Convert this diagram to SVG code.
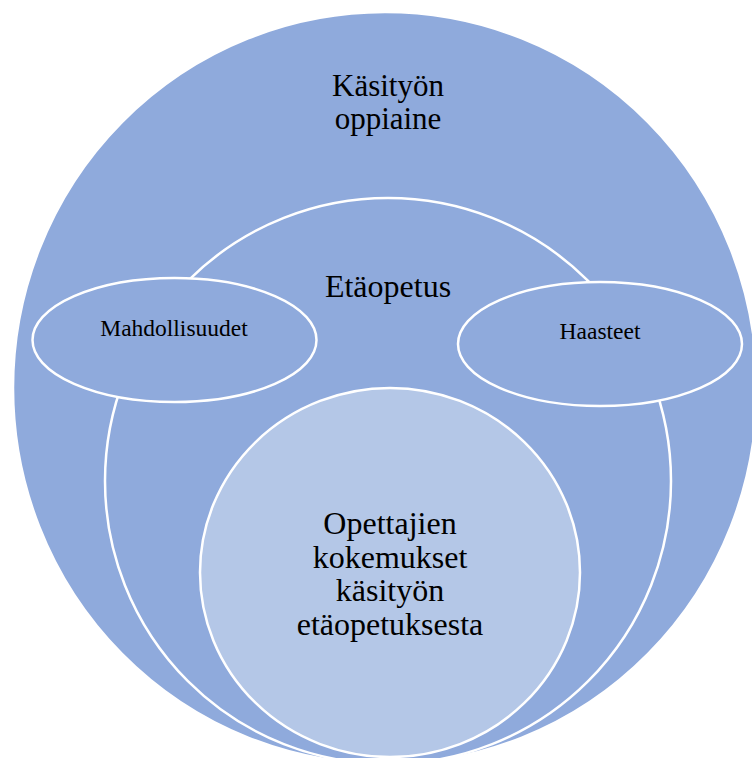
<svg xmlns="http://www.w3.org/2000/svg" width="752" height="758" viewBox="0 0 752 758">
  <style>
    .shape { fill: #8FAADC; stroke: #FFFFFF; stroke-width: 2.5; }
    .inner { fill: #B4C7E7; stroke: #FFFFFF; stroke-width: 2.5; }
    .big { font-family: "Liberation Serif", "Times New Roman", serif; font-size: 32px; fill: #000000; text-anchor: middle; }
    .title { font-family: "Liberation Serif", "Times New Roman", serif; font-size: 31px; fill: #000000; text-anchor: middle; }
    .small { font-family: "Liberation Serif", "Times New Roman", serif; font-size: 23.5px; fill: #000000; text-anchor: middle; }
  </style>
  <rect x="0" y="0" width="752" height="758" fill="#FFFFFF"/>
  <g id="kasityon-oppiaine">
    <ellipse class="shape" cx="385" cy="388" rx="372" ry="376"/>
    <text class="title" x="388" y="96">Käsityön</text>
    <text class="title" x="388" y="128.5">oppiaine</text>
  </g>
  <g id="etaopetus">
    <circle class="shape" cx="388" cy="481" r="283"/>
    <text class="big" x="388" y="296.7">Etäopetus</text>
  </g>
  <g id="mahdollisuudet">
    <ellipse class="shape" cx="174.5" cy="340" rx="142" ry="62"/>
    <text class="small" x="174" y="336">Mahdollisuudet</text>
  </g>
  <g id="haasteet">
    <ellipse class="shape" cx="600" cy="344" rx="142" ry="62"/>
    <text class="small" x="600" y="339">Haasteet</text>
  </g>
  <g id="opettajien-kokemukset">
    <ellipse class="inner" cx="390" cy="572.5" rx="190" ry="184.5"/>
    <text class="big" x="390" y="534.3">Opettajien</text>
    <text class="big" x="390" y="567.7">kokemukset</text>
    <text class="big" x="390" y="601.2">käsityön</text>
    <text class="big" x="390" y="634.7">etäopetuksesta</text>
  </g>
  <g id="connectors"></g>
</svg>
